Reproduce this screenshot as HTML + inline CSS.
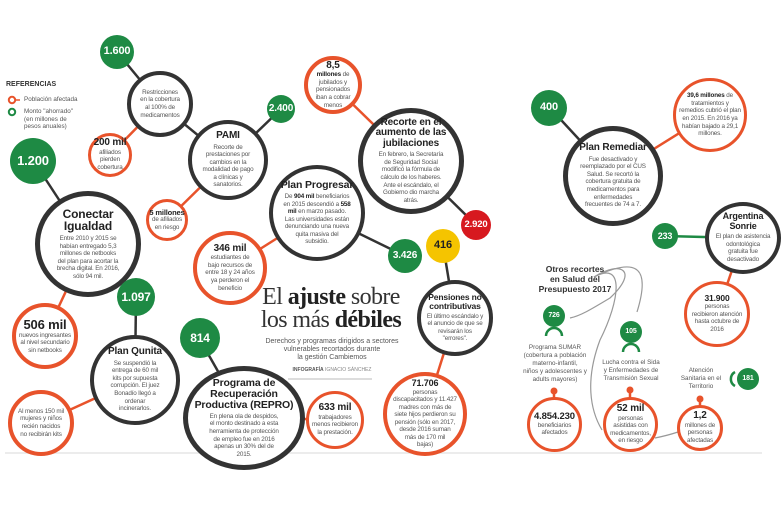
<!DOCTYPE html>
<html><head><meta charset="utf-8">
<style>
*{margin:0;padding:0;box-sizing:border-box}
body{width:783px;height:522px;background:#fff;position:relative;overflow:hidden;font-family:"Liberation Sans",sans-serif;color:#555}
.c{position:absolute;border-radius:50%;background:#fff;display:flex;align-items:center;justify-content:center;text-align:center;font-size:6.3px;line-height:1.2;color:#555;letter-spacing:-0.15px}
.c>div{width:100%}
.d{border:4px solid #333}
.o{border:3px solid #e8532b}
.g{background:#1e8a44;color:#fff;font-weight:bold;font-size:11px}
.h{display:block;font-weight:bold;color:#222;font-size:10px;line-height:1.05;margin-bottom:2px}
.n{display:block;font-weight:bold;color:#222;font-size:10px;line-height:1.05}
b{color:#222}
.t{position:absolute;text-align:center;font-size:6.3px;line-height:1.2;color:#555}
svg{position:absolute;left:0;top:0}
</style></head><body>
<svg width="783" height="522">
<g stroke-width="2.5" fill="none">
<line x1="117" y1="52" x2="160" y2="104" stroke="#333"/>
<line x1="160" y1="104" x2="110" y2="155" stroke="#e8532b"/>
<line x1="160" y1="104" x2="228" y2="160" stroke="#333"/>
<line x1="228" y1="160" x2="281" y2="109" stroke="#333"/>
<line x1="228" y1="160" x2="167" y2="220" stroke="#e8532b"/>
<line x1="33" y1="160" x2="88" y2="244" stroke="#333"/>
<line x1="88" y1="244" x2="45" y2="336" stroke="#e8532b"/>
<line x1="136" y1="297" x2="135" y2="380" stroke="#333"/>
<line x1="135" y1="380" x2="41" y2="423" stroke="#e8532b"/>
<line x1="199" y1="338" x2="244" y2="417" stroke="#333"/>
<line x1="244" y1="417" x2="335" y2="420" stroke="#e8532b"/>
<line x1="317" y1="213" x2="230" y2="268" stroke="#e8532b"/>
<line x1="317" y1="213" x2="405" y2="256" stroke="#333"/>
<line x1="333" y1="85" x2="411" y2="161" stroke="#e8532b"/>
<line x1="411" y1="161" x2="476" y2="225" stroke="#333"/>
<line x1="443" y1="245" x2="455" y2="318" stroke="#333"/>
<line x1="455" y1="318" x2="425" y2="413" stroke="#e8532b"/>
<line x1="550" y1="108" x2="612" y2="175" stroke="#333"/>
<line x1="612" y1="175" x2="710" y2="114" stroke="#e8532b"/>
<line x1="665" y1="236" x2="743" y2="238" stroke="#1e8a44"/>
<line x1="743" y1="238" x2="717" y2="314" stroke="#e8532b"/>
<line x1="554" y1="392" x2="554" y2="400" stroke="#e8532b"/>
<line x1="630" y1="392" x2="630" y2="400" stroke="#e8532b"/>
<line x1="700" y1="400" x2="700" y2="407" stroke="#e8532b"/>
</g>
<g fill="#e8532b"><circle cx="554" cy="391" r="3.5"/><circle cx="630" cy="390" r="3.5"/><circle cx="700" cy="399" r="3.5"/></g>
<g fill="none" stroke="#1e8a44" stroke-width="2.5">
<path d="M546 336 a8 8 0 0 1 16 0"/><path d="M623 352 a8 8 0 0 1 16 0"/><path d="M735 372 a8 8 0 0 0 0 14"/>
</g>
<g fill="none" stroke="#999" stroke-width="1.2">
<path d="M594 277 C620 260 640 270 610 298 C590 310 580 316 570 318"/>
<path d="M594 277 C640 255 650 270 637 312"/>
<path d="M594 277 C625 260 620 300 600 340 C585 380 590 410 602 430"/>
<path d="M655 438 C665 436 672 434 678 432"/>
</g>
<line x1="5" y1="453" x2="762" y2="453" stroke="#e6e6e6" stroke-width="1.5"/>
<line x1="288" y1="379" x2="372" y2="379" stroke="#bbb" stroke-width="1"/>
<g stroke-width="2" fill="none"><circle cx="12" cy="100" r="3.2" stroke="#e8532b"/><circle cx="12" cy="112" r="3.2" stroke="#1e8a44"/></g>
<line x1="15" y1="100" x2="20" y2="100" stroke="#e8532b" stroke-width="1.5"/>
</svg>

<div class="t" style="left:6px;top:81px;text-align:left;font-weight:bold;color:#333;font-size:7px">REFERENCIAS</div>
<div class="t" style="left:24px;top:96px;text-align:left">Población afectada</div>
<div class="t" style="left:24px;top:108px;text-align:left">Monto "ahorrado"<br>(en millones de<br>pesos anuales)</div>

<div class="c g" style="left:100px;top:35px;width:34px;height:34px">1.600</div>
<div class="c d" style="left:127px;top:71px;width:66px;height:66px"><div>Restricciones<br>en la cobertura<br>al 100% de<br>medicamentos</div></div>
<div class="c o" style="left:88px;top:133px;width:44px;height:44px"><div><span class="n">200 mil</span>afiliados<br>pierden<br>cobertura</div></div>
<div class="c d" style="left:188px;top:120px;width:80px;height:80px"><div><span class="h">PAMI</span>Recorte de<br>prestaciones por<br>cambios en la<br>modalidad de pago<br>a clínicas y<br>sanatorios.</div></div>
<div class="c g" style="left:267px;top:95px;width:28px;height:28px;font-size:10px">2.400</div>
<div class="c o" style="left:146px;top:199px;width:42px;height:42px"><div><span class="n" style="font-size:7.5px">5 millones</span>de afiliados<br>en riesgo</div></div>
<div class="c o" style="left:193px;top:231px;width:74px;height:74px;border-width:4px"><div><span class="n">346 mil</span>estudiantes de<br>bajo recursos de<br>entre 18 y 24 años<br>ya perderon el<br>beneficio</div></div>
<div class="c g" style="left:10px;top:138px;width:46px;height:46px;font-size:13px">1.200</div>
<div class="c d" style="left:35px;top:191px;width:106px;height:106px;border-width:5px"><div><span class="h" style="font-size:12px">Conectar<br>Igualdad</span>Entre 2010 y 2015 se<br>habían entregado 5,3<br>millones de netbooks<br>del plan para acortar la<br>brecha digital. En 2016,<br>sólo 94 mil.</div></div>
<div class="c o" style="left:12px;top:303px;width:66px;height:66px;border-width:4px"><div><span class="n" style="font-size:13px">506 mil</span>nuevos ingresantes<br>al nivel secundario<br>sin netbooks</div></div>
<div class="c g" style="left:117px;top:278px;width:38px;height:38px;font-size:12px">1.097</div>
<div class="c d" style="left:90px;top:335px;width:90px;height:90px"><div><span class="h">Plan Qunita</span>Se suspendió la<br>entrega de 60 mil<br>kits por supuesta<br>corrupción. El juez<br>Bonadío llegó a<br>ordenar<br>incinerarlos.</div></div>
<div class="c o" style="left:8px;top:390px;width:66px;height:66px;border-width:4px"><div>Al menos 150 mil<br>mujeres y niños<br>recién nacidos<br>no recibirán kits</div></div>
<div class="c g" style="left:180px;top:318px;width:40px;height:40px;font-size:12px">814</div>
<div class="c d" style="left:183px;top:366px;width:122px;height:104px;border-width:5px"><div><span class="h" style="font-size:10.5px">Programa de<br>Recuperación<br>Productiva (REPRO)</span>En plena ola de despidos,<br>el monto destinado a esta<br>herramienta de protección<br>de empleo fue en 2016<br>apenas un 30% del de<br>2015.</div></div>
<div class="c o" style="left:306px;top:391px;width:58px;height:58px"><div><span class="n">633 mil</span>trabajadores<br>menos recibieron<br>la prestación.</div></div>
<div class="c d" style="left:269px;top:165px;width:96px;height:96px"><div><span class="h" style="font-size:10.5px">Plan Progresar</span>De <b>904 mil</b> beneficiarios<br>en 2015 descendió a <b>558</b><br><b>mil</b> en marzo pasado.<br>Las universidades están<br>denunciando una nueva<br>quita masiva del<br>subsidio.</div></div>
<div class="c g" style="left:388px;top:239px;width:34px;height:34px;font-size:10px">3.426</div>
<div class="c o" style="left:304px;top:56px;width:58px;height:58px;border-width:4px"><div><span class="n">8,5</span><b>millones</b> de<br>jubilados y<br>pensionados<br>iban a cobrar<br>menos</div></div>
<div class="c d" style="left:358px;top:108px;width:106px;height:106px;border-width:5px"><div><span class="h" style="font-size:10px">Recorte en el<br>aumento de las<br>jubilaciones</span>En febrero, la Secretaría<br>de Seguridad Social<br>modificó la fórmula de<br>cálculo de los haberes.<br>Ante el escándalo, el<br>Gobierno dio marcha<br>atrás.</div></div>
<div class="c" style="left:461px;top:210px;width:30px;height:30px;background:#d7191f;color:#fff;font-weight:bold;font-size:9.5px">2.920</div>
<div class="c" style="left:426px;top:229px;width:34px;height:34px;background:#f5c400;color:#222;font-weight:bold;font-size:11px">416</div>
<div class="c d" style="left:417px;top:280px;width:76px;height:76px"><div><span class="h" style="font-size:8.5px">Pensiones no<br>contributivas</span>El último escándalo y<br>el anuncio de que se<br>revisarán los<br>"errores".</div></div>
<div class="c o" style="left:383px;top:372px;width:84px;height:84px;border-width:4px"><div><span class="n" style="font-size:9px">71.706</span>personas<br>discapacitados y 11.427<br>madres con más de<br>siete hijos perdieron su<br>pensión (sólo en 2017,<br>desde 2016 suman<br>más de 170 mil<br>bajas)</div></div>

<div class="t" style="left:248px;top:286px;width:166px;font-family:'Liberation Serif',serif;font-size:24px;line-height:23px;color:#333;letter-spacing:-0.6px">El <b style="color:#222">ajuste</b> sobre<br>los más <b style="color:#222">débiles</b></div>
<div class="t" style="left:252px;top:338px;width:160px;font-size:7px;line-height:8px">Derechos y programas dirigidos a sectores<br>vulnerables recortados durante<br>la gestión Cambiemos</div>
<div class="t" style="left:252px;top:367px;width:160px;font-size:5px;color:#888"><b style="color:#555">INFOGRAFÍA</b> IGNACIO SÁNCHEZ</div>

<div class="c g" style="left:531px;top:90px;width:36px;height:36px;font-size:11px">400</div>
<div class="c o" style="left:673px;top:78px;width:74px;height:74px"><div><b>39,6 millones</b> de<br>tratamientos y<br>remedios cubrió el plan<br>en 2015. En 2016 ya<br>habían bajado a 29,1<br>millones.</div></div>
<div class="c d" style="left:563px;top:126px;width:100px;height:100px;border-width:5px"><div><span class="h">Plan Remediar</span>Fue desactivado y<br>reemplazado por el CUS<br>Salud. Se recortó la<br>cobertura gratuita de<br>medicamentos para<br>enfermedades<br>frecuentes de 74 a 7.</div></div>
<div class="c d" style="left:705px;top:202px;width:76px;height:72px"><div><span class="h" style="font-size:9px">Argentina<br>Sonrie</span>El plan de asistencia<br>odontológica<br>gratuita fue<br>desactivado</div></div>
<div class="c g" style="left:652px;top:223px;width:26px;height:26px;font-size:9px">233</div>
<div class="c o" style="left:684px;top:281px;width:66px;height:66px"><div><span class="n" style="font-size:8.5px">31.900</span>personas<br>recibieron atención<br>hasta octubre de<br>2016</div></div>
<div class="t" style="left:520px;top:264px;width:110px;font-weight:bold;font-size:8.5px;line-height:10px;color:#333">Otros recortes<br>en Salud del<br>Presupuesto 2017</div>
<div class="c g" style="left:543px;top:305px;width:22px;height:22px;font-size:7px">726</div>
<div class="t" style="left:510px;top:344px;width:90px;line-height:8px">Programa SUMAR<br>(cobertura a población<br>materno-infantil,<br>niños y adolescentes y<br>adults mayores)</div>
<div class="c o" style="left:527px;top:397px;width:55px;height:55px"><div><span class="n" style="font-size:9.5px">4.854.230</span>beneficiarios<br>afectados</div></div>
<div class="c g" style="left:620px;top:321px;width:22px;height:22px;font-size:7px">105</div>
<div class="t" style="left:595px;top:359px;width:72px;line-height:8px">Lucha contra el Sida<br>y Enfermedades de<br>Transmisión Sexual</div>
<div class="c o" style="left:603px;top:397px;width:55px;height:55px"><div><span class="n">52 mil</span>personas<br>asistidas con<br>medicamentos,<br>en riesgo</div></div>
<div class="c g" style="left:737px;top:368px;width:22px;height:22px;font-size:7px">181</div>
<div class="t" style="left:675px;top:367px;width:52px;line-height:8px">Atención<br>Sanitaria en el<br>Territorio</div>
<div class="c o" style="left:677px;top:405px;width:46px;height:46px"><div><span class="n">1,2</span>millones de<br>personas<br>afectadas</div></div>
</body></html>
